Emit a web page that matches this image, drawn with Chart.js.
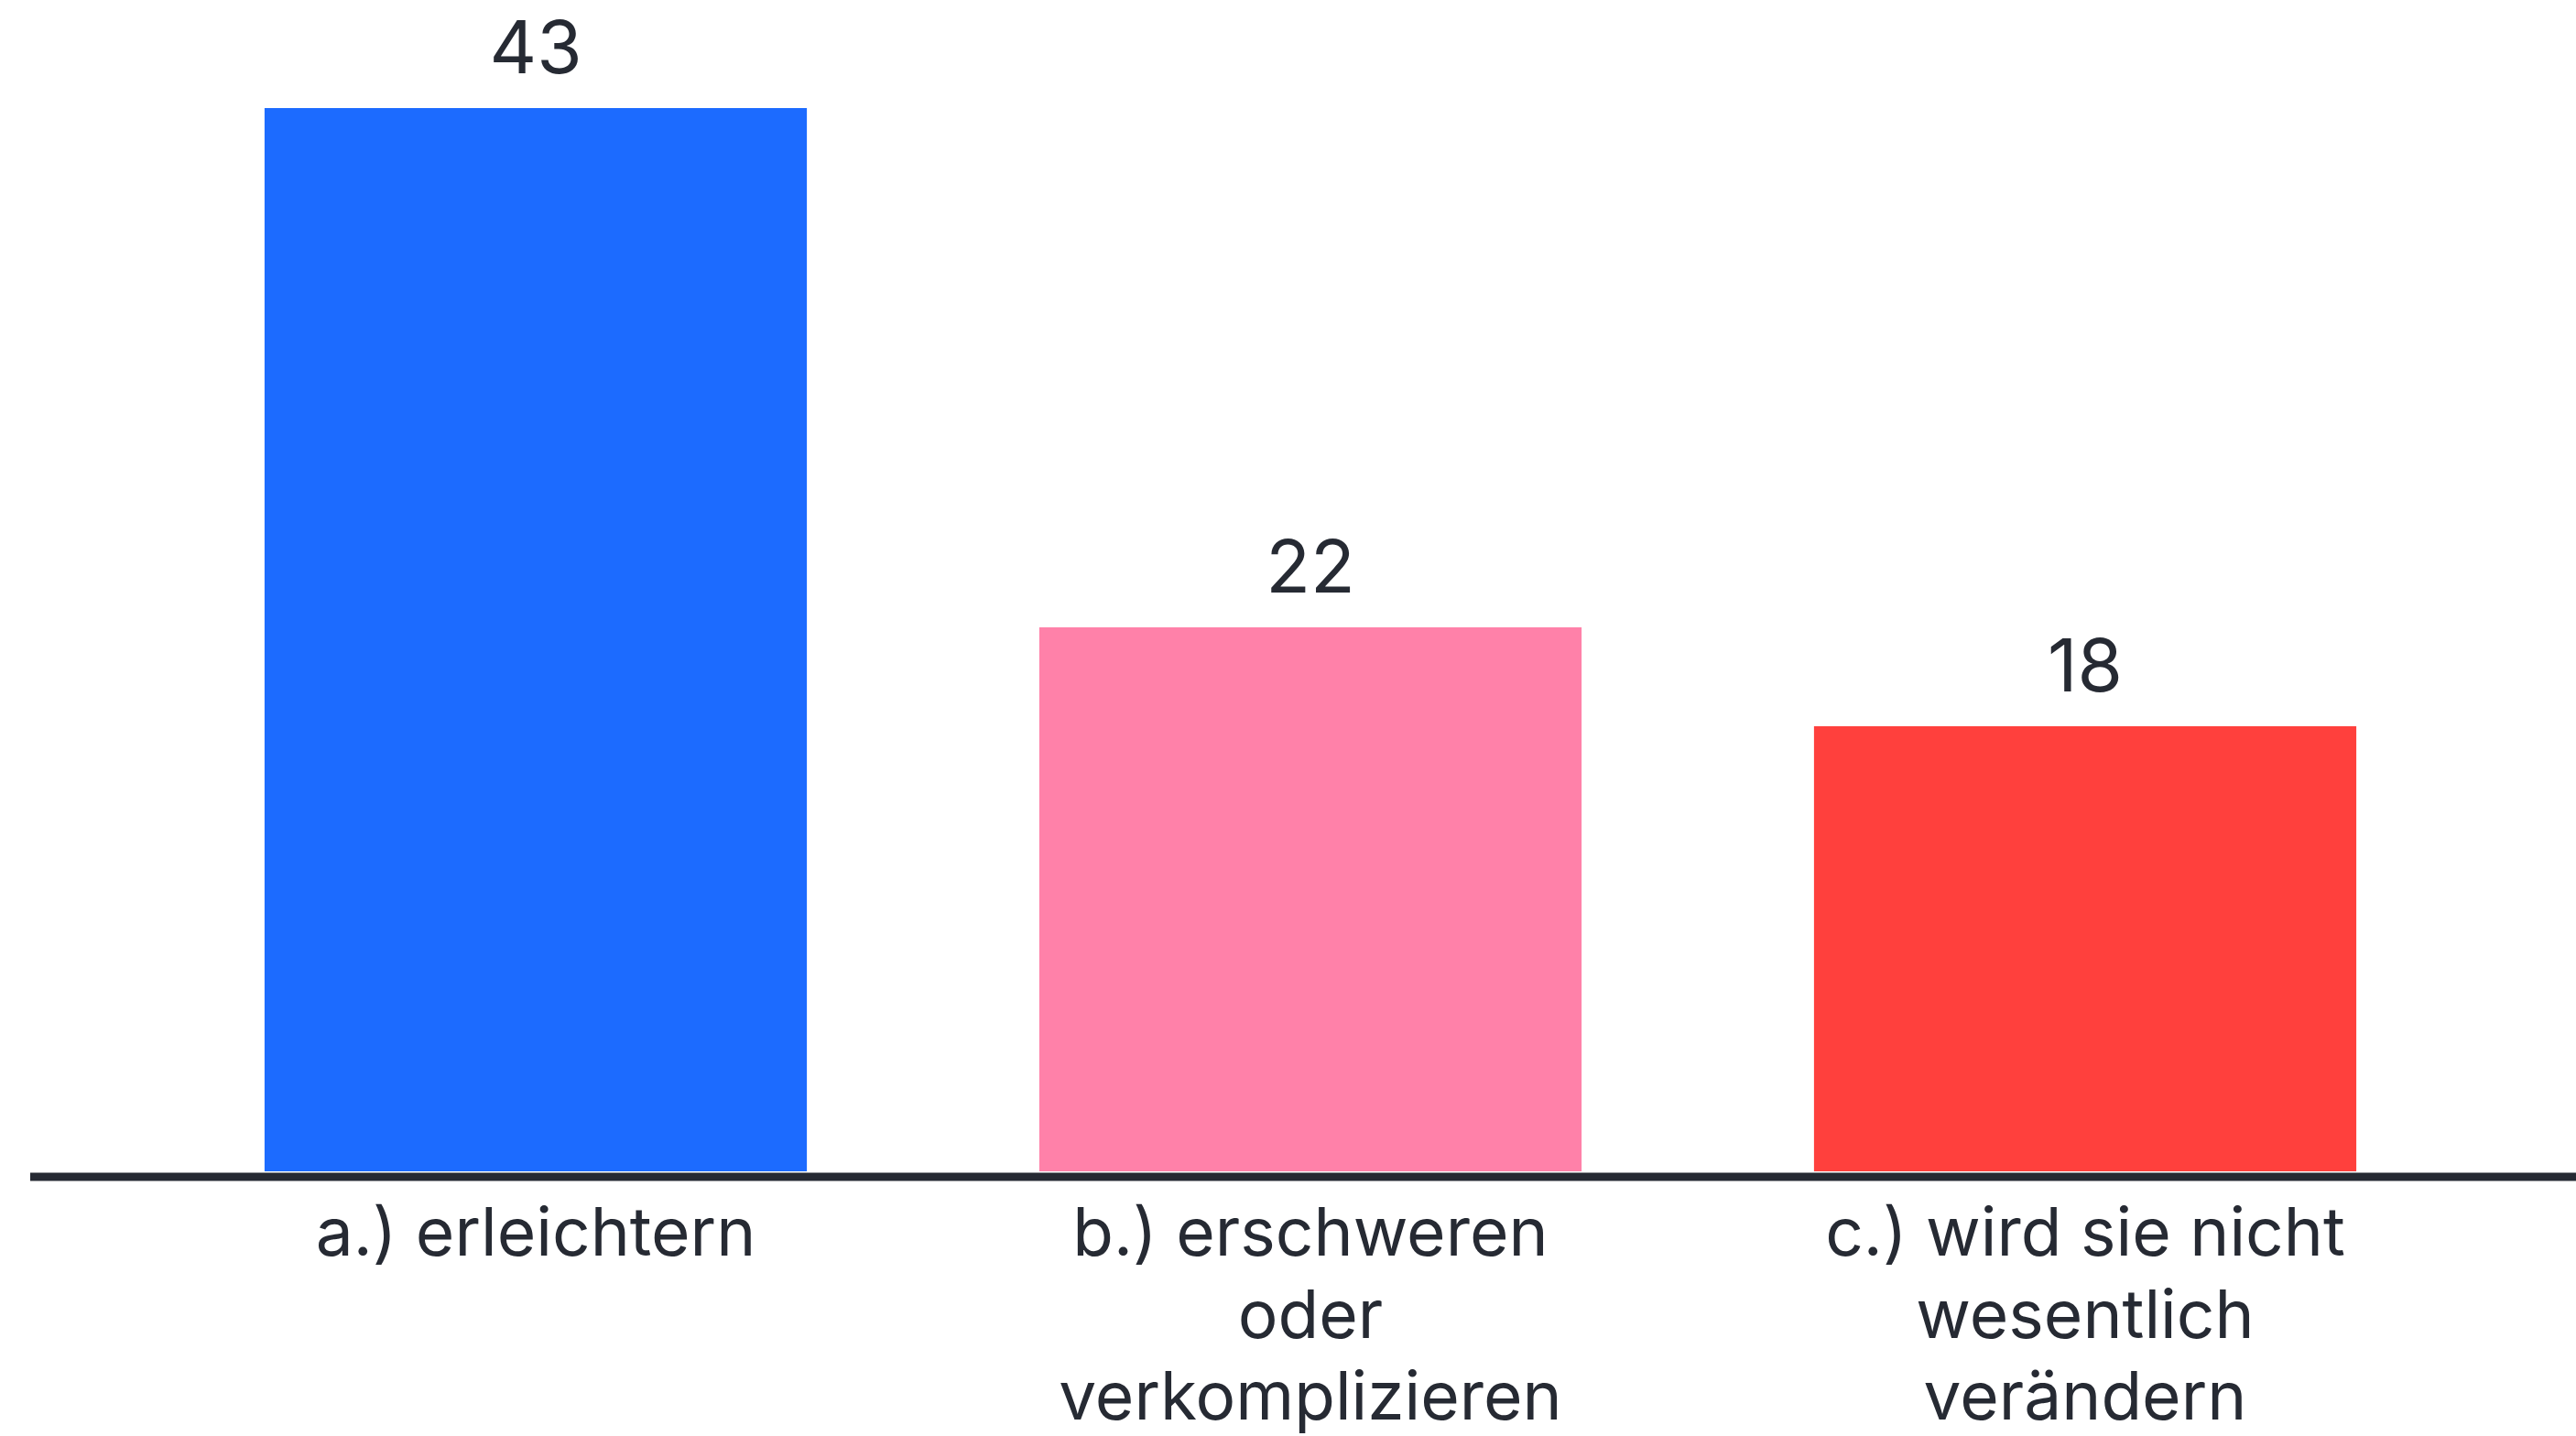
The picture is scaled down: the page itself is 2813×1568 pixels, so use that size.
<!DOCTYPE html>
<html>
<head>
<meta charset="utf-8">
<script src="https://cdn.jsdelivr.net/npm/chart.js@4/dist/chart.umd.min.js"></script>
<style>
html,body{margin:0;padding:0;background:#fff;}
#wrap{width:2813px;height:1568px;position:relative;}
</style>
</head>
<body>
<div id="wrap"><canvas id="c" width="2813" height="1568"></canvas></div>
<script>
const categories = [
  ["a.) erleichtern"],
  ["b.) erschweren", "oder", "verkomplizieren"],
  ["c.) wird sie nicht", "wesentlich", "verändern"]
];
const values = [43, 22, 18];
const barColors = ["#1c6bff", "#ff81a9", "#ff403d"];

const FONT = "Inter, 'Noto Sans', sans-serif";

const valueLabels = {
  id: 'valueLabels',
  afterDatasetsDraw(chart) {
    const ctx = chart.ctx;
    const meta = chart.getDatasetMeta(0);
    ctx.save();
    ctx.fillStyle = '#262a33';
    ctx.font = '400 80px ' + FONT;
    ctx.textAlign = 'center';
    ctx.textBaseline = 'alphabetic';
    meta.data.forEach((bar, i) => {
      ctx.fillText(String(values[i]), bar.x, bar.y - 38);
    });
    ctx.restore();
  }
};

const axisLine = {
  id: 'axisLine',
  afterDatasetsDraw(chart) {
    const ctx = chart.ctx;
    const y = chart.scales.y.getPixelForValue(0) + 6;
    ctx.save();
    ctx.strokeStyle = '#262a33';
    ctx.lineWidth = 9;
    ctx.beginPath();
    ctx.moveTo(33, y);
    ctx.lineTo(chart.width, y);
    ctx.stroke();
    ctx.restore();
  }
};

new Chart(document.getElementById('c'), {
  type: 'bar',
  data: {
    labels: categories,
    datasets: [{
      data: values,
      backgroundColor: barColors,
      borderWidth: 0,
      barPercentage: 0.7,
      categoryPercentage: 1.0
    }]
  },
  options: {
    responsive: false,
    animation: false,
    devicePixelRatio: 1,
    layout: { padding: { left: 162, right: 113, top: 10, bottom: 0 } },
    plugins: { legend: { display: false }, tooltip: { enabled: false } },
    scales: {
      x: {
        afterFit(scale) { scale.height = 289; },
        grid: { display: false, drawTicks: false },
        border: { display: false },
        ticks: {
          color: '#262a33',
          font: { family: FONT, size: 73, lineHeight: 1.23 },
          padding: 25,
          maxRotation: 0,
          autoSkip: false
        }
      },
      y: {
        display: false,
        min: 0,
        max: 47
      }
    }
  },
  plugins: [valueLabels, axisLine]
});
</script>
</body>
</html>
